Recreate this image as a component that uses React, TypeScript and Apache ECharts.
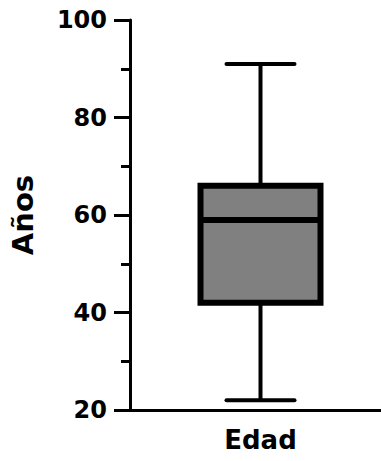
import React, { useEffect, useRef } from "react";
import * as echarts from "echarts";

const categories = ["Edad"];
// [categoryIndex, min, Q1, median, Q3, max]
const boxValues = [[0, 22, 42, 59, 66, 91]];
const yTicks = [20, 40, 60, 80, 100];
const yAxisName = "Años";

const FONT = "'DejaVu Sans', sans-serif";

export default function App() {
  const ref = useRef<HTMLDivElement>(null);
  useEffect(() => {
    if (!ref.current) return;
    const chart = echarts.init(ref.current, undefined, { renderer: "svg" });
    const option: any = {
      animation: false,
      backgroundColor: "#ffffff",
      grid: { left: 128, right: 0, top: 20, bottom: 51, containLabel: false },
      xAxis: {
        type: "category",
        data: categories,
        boundaryGap: true,
        axisLine: { show: true, lineStyle: { color: "#000", width: 3 } },
        axisTick: { show: false },
        axisLabel: {
          color: "#000",
          fontFamily: FONT,
          fontWeight: "bold",
          fontSize: 26,
          margin: 17,
        },
        splitLine: { show: false },
      },
      yAxis: {
        type: "value",
        min: yTicks[0],
        max: yTicks[yTicks.length - 1],
        interval: 20,
        name: yAxisName,
        nameLocation: "middle",
        nameGap: 93,
        nameTextStyle: {
          color: "#000",
          fontFamily: FONT,
          fontWeight: "bold",
          fontSize: 29,
        },
        axisLine: { show: true, lineStyle: { color: "#000", width: 3 } },
        axisTick: { show: true, inside: false, length: 16, lineStyle: { color: "#000", width: 3 } },
        minorTick: { show: true, splitNumber: 2, length: 9, lineStyle: { color: "#000", width: 3 } },
        axisLabel: {
          color: "#000",
          fontFamily: FONT,
          fontWeight: "bold",
          fontSize: 24,
          margin: 23,
        },
        splitLine: { show: false },
      },
      series: [
        {
          type: "custom",
          data: boxValues,
          encode: { x: 0, y: [1, 2, 3, 4, 5] },
          renderItem: (params: any, api: any) => {
            const cat = api.value(0);
            const pMin = api.coord([cat, api.value(1)]);
            const pQ1 = api.coord([cat, api.value(2)]);
            const pMed = api.coord([cat, api.value(3)]);
            const pQ3 = api.coord([cat, api.value(4)]);
            const pMax = api.coord([cat, api.value(5)]);
            const cx = pMed[0];
            const halfBox = 60;
            const halfCap = 34;
            const lineStyle = { stroke: "#000", lineWidth: 4, lineCap: "round" };
            return {
              type: "group",
              children: [
                { type: "line", shape: { x1: cx, y1: pMax[1], x2: cx, y2: pQ3[1] }, style: { stroke: "#000", lineWidth: 4 } },
                { type: "line", shape: { x1: cx, y1: pQ1[1], x2: cx, y2: pMin[1] }, style: { stroke: "#000", lineWidth: 4 } },
                { type: "line", shape: { x1: cx - halfCap, y1: pMax[1], x2: cx + halfCap, y2: pMax[1] }, style: lineStyle },
                { type: "line", shape: { x1: cx - halfCap, y1: pMin[1], x2: cx + halfCap, y2: pMin[1] }, style: lineStyle },
                {
                  type: "rect",
                  shape: { x: cx - halfBox, y: pQ3[1], width: halfBox * 2, height: pQ1[1] - pQ3[1] },
                  style: { fill: "#808080", stroke: "#000", lineWidth: 6 },
                },
                { type: "line", shape: { x1: cx - halfBox, y1: pMed[1], x2: cx + halfBox, y2: pMed[1] }, style: { stroke: "#000", lineWidth: 6 } },
              ],
            };
          },
        },
      ],
    };
    chart.setOption(option);
    return () => chart.dispose();
  }, []);
  return (
    <div
      ref={ref}
      style={{ position: "fixed", left: 0, top: 0, width: 391, height: 461 }}
    />
  );
}
